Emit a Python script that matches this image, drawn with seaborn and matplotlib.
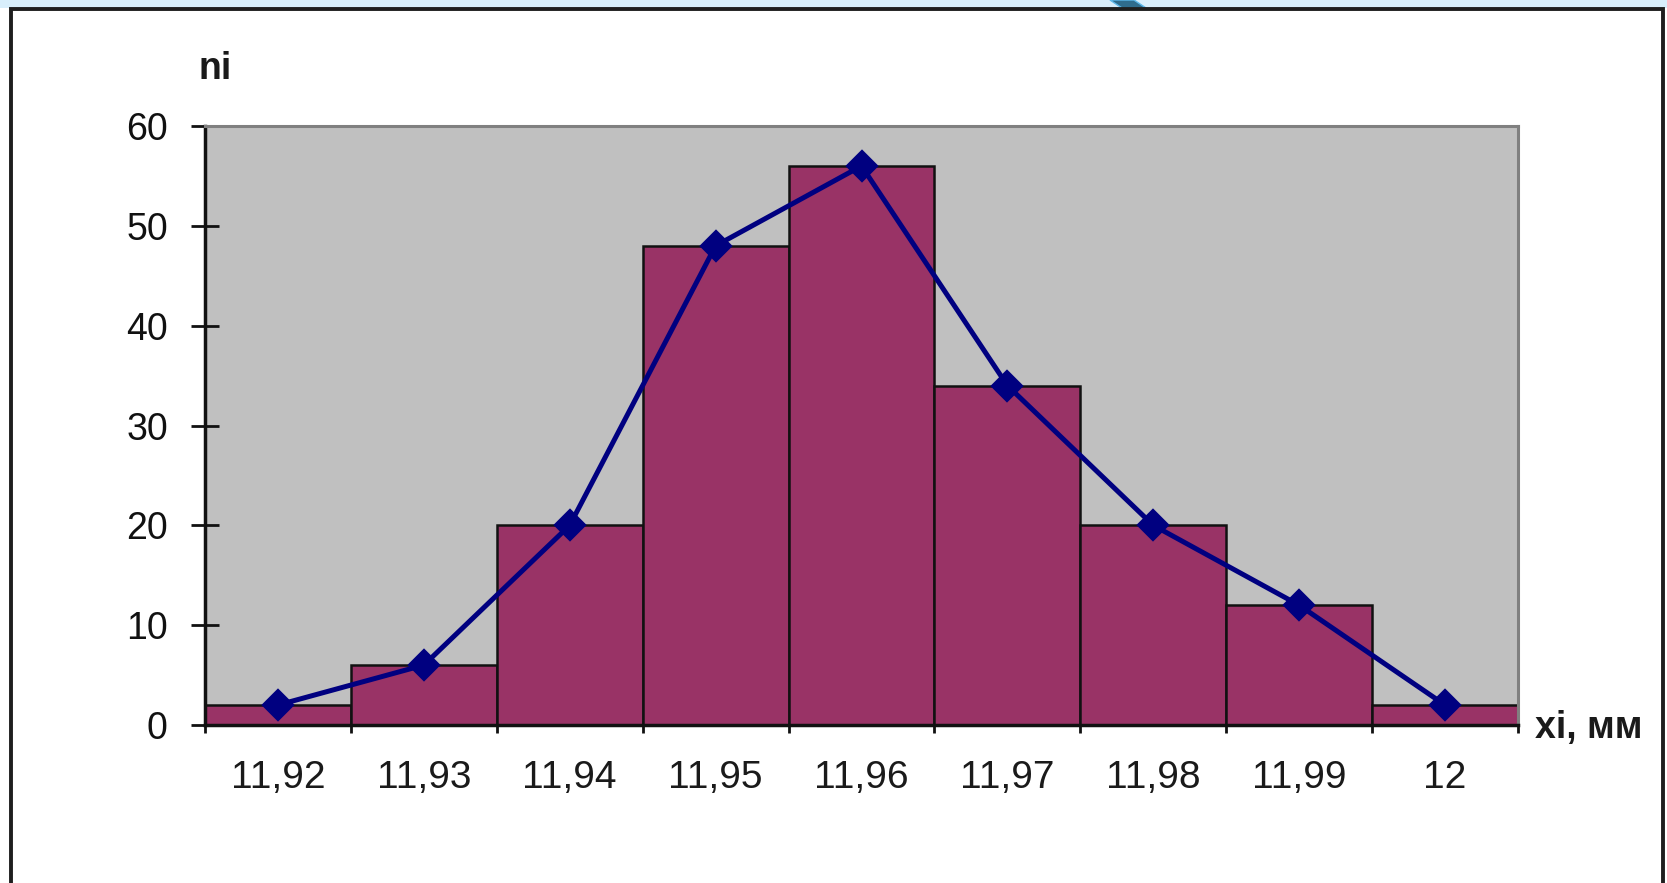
import numpy as np
import matplotlib
matplotlib.use("Agg")
import matplotlib.pyplot as plt
from matplotlib.patches import Rectangle, Polygon
import seaborn as sns

categories = ["11,92", "11,93", "11,94", "11,95", "11,96", "11,97", "11,98", "11,99", "12"]
frequencies = [2, 6, 20, 48, 56, 34, 20, 12, 2]
y_ticks = [0, 10, 20, 30, 40, 50, 60]

sns.set_style("white")
plt.rcParams['font.family'] = ['Liberation Sans', 'DejaVu Sans']

W, H = 1667, 883
fig = plt.figure(figsize=(W / 100, H / 100), dpi=100)
fig.patch.set_facecolor("white")

# decorative top strip and frame
fig.add_artist(Rectangle((0, 1 - 8 / H), 1, 8 / H, transform=fig.transFigure,
                         facecolor="#D8EEFB", edgecolor="none", zorder=0))
fig.add_artist(Polygon([(1110 / W, 1), (1134 / W, 1), (1146 / W, 1 - 8 / H), (1122 / W, 1 - 8 / H)],
                       closed=True, transform=fig.transFigure, facecolor="#2F6C8C",
                       edgecolor="#5BB8EA", lw=1, zorder=1))
fig.add_artist(Rectangle((11 / W, -0.05), (1663 - 11) / W, 1.05 - 9.5 / H, transform=fig.transFigure,
                         facecolor="none", edgecolor="#1E1E1E", lw=2.8, zorder=2))

ax = fig.add_axes([205 / W, (H - 725) / H, (1518 - 205) / W, (725 - 126) / H])
ax.set_facecolor("#C0C0C0")

sns.barplot(x=categories, y=frequencies, width=1.0, color="#993366", saturation=1,
            edgecolor="#111111", linewidth=1.8, ax=ax, zorder=2)
sns.pointplot(x=categories, y=frequencies, color="#000080", markers="D",
              markersize=14, linewidth=3.6, ax=ax, zorder=3)

ax.set_xlim(-0.5, len(categories) - 0.5)
ax.set_ylim(0, 60)
ax.set_yticks(y_ticks)
ax.set_yticklabels([str(v) for v in y_ticks], fontsize=27, color="#1A1A1A")
ax.tick_params(axis="y", left=True, direction="inout", length=19.5, width=2, pad=17,
               colors="#111111")

ax.set_xticks(np.arange(len(categories) + 1) - 0.5)
ax.set_xticklabels([])
ax.set_xticks(np.arange(len(categories)), minor=True)
ax.set_xticklabels(categories, minor=True, fontsize=28, color="#1A1A1A")
ax.tick_params(axis="x", which="major", bottom=True, direction="out", length=6, width=2,
               colors="#111111")
ax.tick_params(axis="x", which="minor", bottom=True, length=0, pad=25)

ax.set_xlabel("")
ax.set_ylabel("")
for s in ["left", "bottom"]:
    ax.spines[s].set_color("#111111")
    ax.spines[s].set_linewidth(2.5)
for s in ["top", "right"]:
    ax.spines[s].set_color("#808080")
    ax.spines[s].set_linewidth(2.2)

fig.text(198 / W, 1 - 69 / H, "ni", fontsize=27, fontweight="bold", ha="left", va="center",
         color="#1A1A1A")
fig.text(1535 / W, 1 - 728 / H, "xi, мм", fontsize=27, fontweight="bold", ha="left", va="center",
         color="#1A1A1A")

fig.savefig("out.png", dpi=100, facecolor="white")
